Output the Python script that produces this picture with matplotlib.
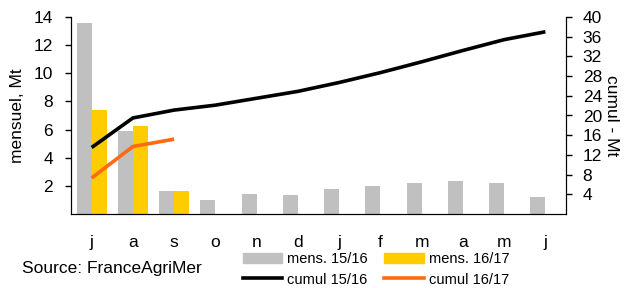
import numpy as np
import matplotlib.pyplot as plt
from matplotlib.patches import Patch
from matplotlib.lines import Line2D

plt.rcParams['font.family'] = ['Liberation Sans', 'DejaVu Sans']

# campaign months, July -> June
months = ["j", "a", "s", "o", "n", "d", "j", "f", "m", "a", "m", "j"]
mens_1516 = [13.6, 5.9, 1.63, 1.0, 1.42, 1.35, 1.78, 2.0, 2.2, 2.34, 2.2, 1.2]
mens_1617 = [7.4, 6.25, 1.63]
cumul_1516 = [13.5, 19.5, 21.1, 22.1, 23.5, 24.9, 26.7, 28.7, 30.9, 33.2, 35.4, 37.0]
cumul_1617 = [7.3, 13.7, 15.2]

GREY = "#c0c0c0"
YELLOW = "#ffcc00"
ORANGE = "#ff6a13"

fig = plt.figure(figsize=(6.24, 2.88), dpi=100)
ax = fig.add_axes([71/624, 1 - 214/288, (566-71)/624, (214-17)/288])
ax2 = ax.twinx()

x = np.arange(len(months))
w = 0.365
ax.bar(x - w/2, mens_1516, width=w, color=GREY, zorder=2)
ax.bar(x[:len(mens_1617)] + w/2, mens_1617, width=w, color=YELLOW, zorder=2)

ax2.plot(x, cumul_1516, color="black", lw=2.6, solid_capstyle="butt")
ax2.plot(x[:len(cumul_1617)], cumul_1617, color=ORANGE, lw=2.6, solid_capstyle="butt")

ax.set_xlim(-0.5, len(months) - 0.5)
ax.set_ylim(0, 14)
ax2.set_ylim(0, 40)
ax.set_yticks(range(2, 15, 2))
ax2.set_yticks(range(4, 41, 4))
ax.set_xticks(x)
ax.set_xticklabels(months)

for a in (ax, ax2):
    a.spines["top"].set_visible(False)
    a.tick_params(labelsize=12.5, length=4, width=1)
ax.tick_params(axis="x", length=0, pad=15)
ax.tick_params(axis="y", pad=9)
ax2.tick_params(axis="y", pad=8)

ax.set_ylabel("mensuel, Mt", fontsize=12.5, labelpad=6)
ax2.set_ylabel("cumul - Mt", fontsize=12.5, rotation=270, labelpad=12)

fig.text(22/624, 1 - 268/288, "Source: FranceAgriMer", fontsize=12.5, va="center")

handles = [Patch(color=GREY), Line2D([], [], color="black", lw=2.6),
           Patch(color=YELLOW), Line2D([], [], color=ORANGE, lw=2.6)]
labels = ["mens. 15/16", "cumul 15/16", "mens. 16/17", "cumul 16/17"]
fig.legend(handles, labels, ncol=2, frameon=False, fontsize=10.5,
           loc="upper left", bbox_to_anchor=(243/624, 1 - 252/288),
           borderpad=0, borderaxespad=0, handlelength=2.7, handleheight=0.7,
           handletextpad=0.35, columnspacing=1.1, labelspacing=0.45)

fig.savefig("out.png", dpi=100)
